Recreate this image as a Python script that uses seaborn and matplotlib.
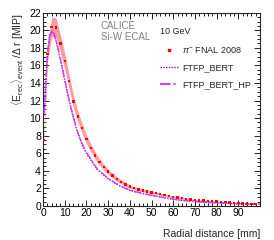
import numpy as np
import pandas as pd
import seaborn as sns
import matplotlib
matplotlib.use('Agg')
import matplotlib.pyplot as plt
from matplotlib.ticker import MultipleLocator
from matplotlib.lines import Line2D

# Data (10 GeV pi- shower radial profile)
r_data = [0.5, 2, 4, 6, 8, 10, 12, 14, 16, 18, 20, 22, 24, 26, 28, 30, 32, 34, 36, 38,
          40, 42, 44, 46, 48, 50, 52, 54, 56, 58, 60, 62, 64, 66, 68, 70, 72, 74, 76, 78,
          80, 82, 84, 86, 88, 90, 92, 94, 96, 98]
e_data = [7.5, 17.3, 20.4, 20.3, 18.5, 16.5, 14.2, 11.9, 10.2, 8.85, 7.6, 6.6, 5.75, 5.0, 4.4,
          3.9, 3.45, 3.05, 2.75, 2.45, 2.2, 2.02, 1.88, 1.77, 1.66, 1.55, 1.44, 1.33, 1.22, 1.12,
          1.02, 0.95, 0.88, 0.81, 0.74, 0.68, 0.64, 0.6, 0.56, 0.53, 0.5, 0.46, 0.42, 0.38, 0.34,
          0.31, 0.28, 0.26, 0.24, 0.22]
err_data = [0.7, 1.0, 1.1, 1.1, 1.0, 0.9, 0.8, 0.7, 0.62, 0.55, 0.5, 0.45, 0.4, 0.36, 0.33,
            0.3, 0.27, 0.25, 0.23, 0.21, 0.19, 0.18, 0.17, 0.16, 0.15, 0.14, 0.13, 0.12, 0.11, 0.1,
            0.1, 0.09, 0.09, 0.08, 0.08, 0.07, 0.07, 0.07, 0.06, 0.06, 0.06, 0.05, 0.05, 0.05, 0.05,
            0.04, 0.04, 0.04, 0.04, 0.04]

r_mc = [0.5, 1, 2, 3, 4, 5, 6, 8, 10, 12, 14, 16, 18, 20, 25, 30, 35, 40, 45, 50,
        55, 60, 65, 70, 75, 80, 85, 90, 95, 100]
e_bert = [10.3, 12.8, 17.1, 19.2, 19.85, 19.6, 18.8, 16.7, 14.3, 12.0, 10.0, 8.3, 7.0, 6.0, 4.15,
          3.1, 2.33, 1.77, 1.46, 1.2, 0.96, 0.76, 0.61, 0.5, 0.41, 0.34, 0.29, 0.25, 0.21, 0.18]
e_bert_hp = [10.5, 13.0, 17.3, 19.4, 20.0, 19.7, 18.9, 16.8, 14.4, 12.1, 10.1, 8.4, 7.1, 6.1, 4.2,
             3.15, 2.35, 1.78, 1.48, 1.22, 0.97, 0.77, 0.62, 0.5, 0.42, 0.35, 0.29, 0.25, 0.21, 0.18]

df = pd.DataFrame({'r': r_data, 'E': e_data, 'err': err_data})
mc = pd.DataFrame({'r': r_mc, 'FTFP_BERT': e_bert, 'FTFP_BERT_HP': e_bert_hp})

sns.set_style('ticks')
plt.rcParams['font.family'] = ['Liberation Sans', 'DejaVu Sans']
plt.rcParams['mathtext.fontset'] = 'custom'
plt.rcParams['mathtext.rm'] = 'Liberation Sans'
plt.rcParams['mathtext.it'] = 'Liberation Sans:italic'

fig = plt.figure(figsize=(2.74, 2.40), dpi=100)
ax = fig.add_axes([0.157, 0.142, 0.792, 0.805])

red = '#ff0000'
purple = '#9000c8'
magenta = '#d040ff'

# data error band + points
ax.fill_between(df['r'], df['E'] - df['err'], df['E'] + df['err'],
                color='#ff8a8a', alpha=0.85, lw=0, zorder=2)
sns.scatterplot(data=df, x='r', y='E', ax=ax, marker='s', s=3, color=red,
                edgecolor='none', zorder=4, legend=False)

# MC curves
sns.lineplot(data=mc, x='r', y='FTFP_BERT', ax=ax, color=purple, lw=1.0,
             linestyle=(0, (1, 1)), zorder=3)
sns.lineplot(data=mc, x='r', y='FTFP_BERT_HP', ax=ax, color=magenta, lw=1.0,
             linestyle=(0, (5, 1.5, 1, 1.5)), zorder=3)

ax.set_xlim(0, 100)
ax.set_ylim(0, 22)
ax.xaxis.set_major_locator(MultipleLocator(10))
ax.xaxis.set_minor_locator(MultipleLocator(2))
ax.yaxis.set_major_locator(MultipleLocator(2))
ax.yaxis.set_minor_locator(MultipleLocator(0.5))
ax.set_xticks(np.arange(0, 100, 10))
ax.tick_params(which='both', direction='in', top=True, right=True, labelsize=7.5,
               width=0.6, pad=1.5, colors='black')
ax.tick_params(which='major', length=4)
ax.tick_params(which='minor', length=2)
for sp in ax.spines.values():
    sp.set_linewidth(0.8)

ax.set_xlabel('Radial distance [mm]', fontsize=7.5, loc='right', labelpad=8)
ax.set_ylabel(r'$\langle\mathrm{E}_{\mathrm{rec}}\rangle_{\mathrm{event}}$ /$\Delta$ r [MIP]',
              fontsize=7.5, loc='top', labelpad=2)

ax.text(0.265, 0.955, 'CALICE\nSi-W ECAL', transform=ax.transAxes, fontsize=7,
        color='#808080', va='top', ha='left', linespacing=1.1)

handles = [Line2D([], [], marker='s', ms=1.6, color=red, lw=0),
           Line2D([], [], color=purple, lw=1.0, linestyle=(0, (1, 1))),
           Line2D([], [], color=magenta, lw=1.5, linestyle=(0, (5, 1.5, 1, 1.5)))]
labels = [r'$\pi^{-}$ FNAL 2008', 'FTFP_BERT', 'FTFP_BERT_HP']
leg = ax.legend(handles, labels, title='10 GeV', loc='upper left',
                bbox_to_anchor=(0.52, 0.95), frameon=False, fontsize=6.5,
                title_fontsize=6.5, handlelength=2.0, handletextpad=0.4,
                labelspacing=0.9, borderpad=0, alignment='left')

fig.savefig('out.png', dpi=100)
